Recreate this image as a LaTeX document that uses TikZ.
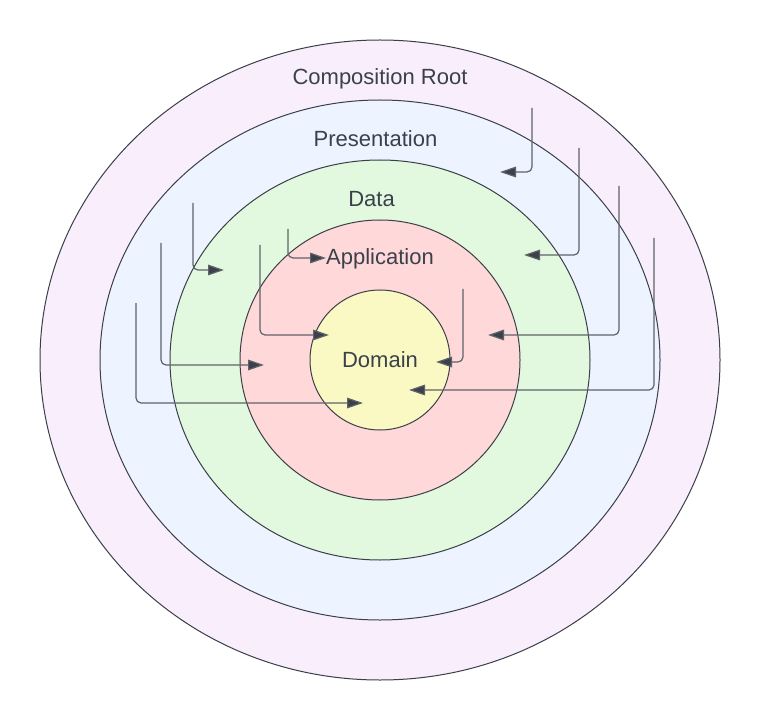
\documentclass[tikz,border=0pt]{standalone}
\usepackage{fontspec}
\setmainfont{Liberation Sans}
\usetikzlibrary{arrows.meta,shapes.geometric}
\definecolor{rootfill}{HTML}{F9EEFC}
\definecolor{presfill}{HTML}{EDF4FF}
\definecolor{datafill}{HTML}{E2F9DF}
\definecolor{appfill}{HTML}{FFD8DA}
\definecolor{domfill}{HTML}{FAF9C4}
\definecolor{ringline}{HTML}{3A3F48}
\definecolor{depline}{HTML}{5E636A}
\definecolor{tipcol}{HTML}{3A414A}
\definecolor{txtcol}{HTML}{3A414A}
\begin{document}
\begin{tikzpicture}[x=0.75pt,y=-0.75pt,
  ring/.style={draw=ringline, line width=0.75pt, ellipse, inner sep=0pt},
  dep/.style={draw=depline, line width=0.9pt, rounded corners=3.75pt,
    -{Triangle[length=12pt,width=8pt,fill=tipcol]}},
  lbl/.style={font=\fontsize{16.5}{20}\selectfont, text=txtcol, inner sep=0pt}]
\useasboundingbox (0,0) rectangle (760,720);
\fill[white] (0,0) rectangle (760,720);
\node[ring, fill=rootfill, minimum width=510pt, minimum height=480pt] (root) at (380,360) {};
\node[ring, fill=presfill, minimum width=420pt, minimum height=390pt] (pres) at (380,360) {};
\node[ring, fill=datafill, minimum width=315pt, minimum height=300pt] (data) at (380,360) {};
\node[ring, fill=appfill, minimum width=210pt, minimum height=210pt] (app) at (380,360) {};
\node[ring, fill=domfill, minimum width=105pt, minimum height=105pt] (dom) at (380,360) {};

\node[lbl] (lroot) at (380,79) {Composition Root};
\node[lbl] (lpres) at (375.5,139) {Presentation};
\node[lbl] (ldata) at (371.5,199) {Data};
\node[lbl] (lapp) at (380,259) {Application};
\node[lbl] (ldom) at (380,360) {Domain};

% left side connectors
\coordinate (s1) at (193,203); \coordinate (e1) at (224,270);
\coordinate (s2) at (161,243); \coordinate (e2) at (264,365);
\coordinate (s3) at (136,303); \coordinate (e3) at (363,403);
\coordinate (s4) at (260,245); \coordinate (e4) at (329,335);
\coordinate (s5) at (288,229); \coordinate (e5) at (326,258);
% right side connectors
\coordinate (s6) at (532,108); \coordinate (e6) at (500,172);
\coordinate (s7) at (579,148); \coordinate (e7) at (524,255);
\coordinate (s8) at (619,186); \coordinate (e8) at (488,335);
\coordinate (s9) at (654,238); \coordinate (e9) at (409,390);
\coordinate (s10) at (463,289); \coordinate (e10) at (436,362);

\foreach \i in {1,...,10} {\draw[dep] (s\i) |- (e\i);}
\end{tikzpicture}
\end{document}
